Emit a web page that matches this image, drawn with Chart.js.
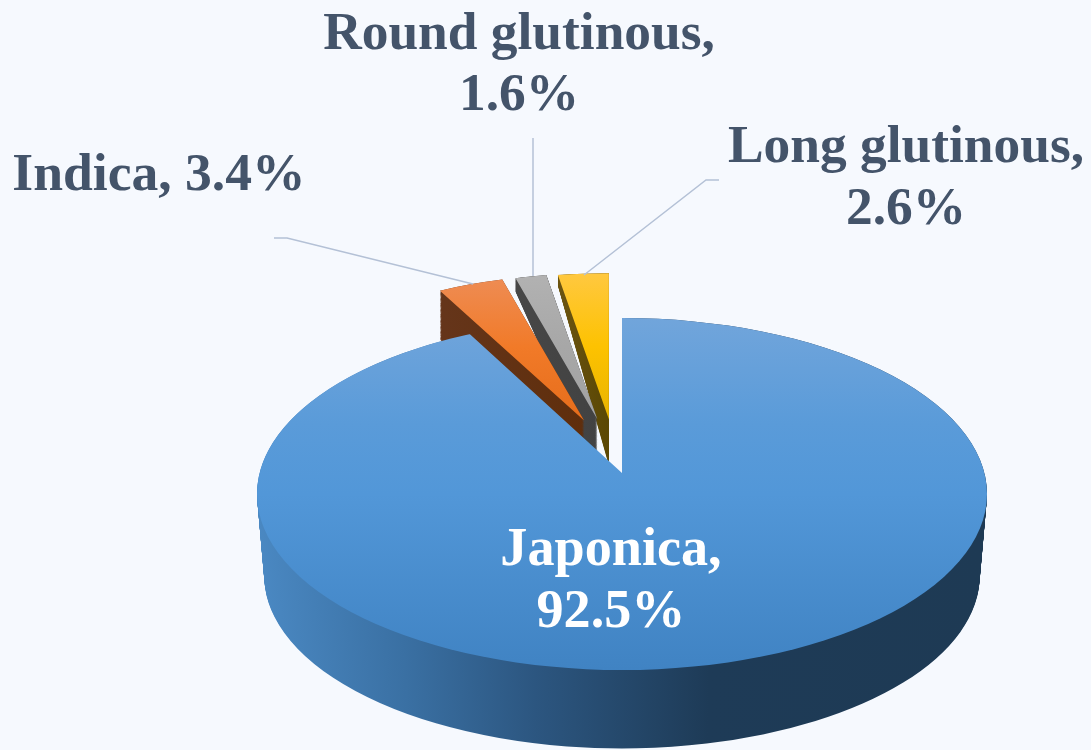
<!DOCTYPE html>
<html><head><meta charset="utf-8">
<script src="https://cdn.jsdelivr.net/npm/chart.js@4"></script>
<style>html,body{margin:0;padding:0;background:#f6f9fe;overflow:hidden}canvas{display:block}</style>
</head><body><canvas id="c" width="1091" height="750"></canvas>
<script>
const categories = ['Japonica', 'Indica', 'Round glutinous', 'Long glutinous'];
const shares = [92.5, 3.4, 1.6, 2.6];

const textColor = '#44546a', leaderColor = '#b4c1d6';
const fontFamily = '"Liberation Serif","Times New Roman",serif';
const R = 365;
const disc = {cx: 622, cy: 494, ry: 176, apexY: 473, sx: 1.2, sy: 0.566, depth: 82, shrink: 0.02};
const slice = {cx: 619, cy: 467, sx: 0.86, sy: 0.4, anchorY: 274};
const explode = [0, 125, 130, 130];
const nudge = [[0, 0], [4, 0], [2, 3], [-1, 4]];
const wall = [null,
  {color: ['#66361c', '#5f2e0c'], shift: 48, stretch: 0.05},
  {color: ['#474747', '#424242'], shift: 12, stretch: 0.3},
  {color: ['#6b5412', '#5a4703'], shift: 10, stretch: 0.25}];
const faces = [null,
  ['#ee8d56', '#f17a28', '#e66d1b'],
  ['#b2b2b2', '#a7a7a7', '#a2a2a2'],
  ['#ffc840', '#fdc201', '#e9b400']];
const leaders = [[[274,238],[287,238],[473,284]], [[533,138],[533,276]], [[719,180],[706,180],[584,275]]];
const labels = [
  {i: 0, x: 611, y: [565, 627], color: '#ffffff', lines: 2, size: 54.2},
  {i: 1, x: 159, y: [190], color: textColor, lines: 1, size: 53.6},
  {i: 2, x: 519, y: [49, 110], color: textColor, lines: 2, size: 53.4},
  {i: 3, x: 906, y: [162, 224], color: textColor, lines: 2, size: 53.4}];

function withFill(el, fill, fn) {
  const o = el.options;
  el.options = Object.assign({}, o, {backgroundColor: fill});
  fn();
  el.options = o;
}

const pie3d = {
  id: 'pie3d',
  beforeDatasetsDraw(chart) {
    const ctx = chart.ctx, els = chart.getDatasetMeta(0).data, blue = els[0];
    const ex = blue.x, ey = blue.y;

    // side wall of the large slice
    const side = ctx.createLinearGradient(ex - R, 0, ex + R, 0);
    side.addColorStop(0, '#4a88c2');
    side.addColorStop(0.2, '#3a70a3');
    side.addColorStop(0.38, '#2c5680');
    side.addColorStop(0.62, '#1e3b57');
    side.addColorStop(1, '#1e3a54');
    withFill(blue, side, () => {
      for (let k = disc.depth; k >= 0; k--) {
        const f = 1 - disc.shrink * k / disc.depth;
        ctx.save();
        ctx.translate(disc.cx, disc.cy + k);
        ctx.scale(f, disc.ry / R * f);
        ctx.translate(-ex, -ey);
        blue.draw(ctx);
        ctx.restore();
      }
    });

    // exploded small slices, back to front
    for (let i = els.length - 1; i >= 1; i--) {
      const el = els[i], w = wall[i];
      const mid = (el.startAngle + el.endAngle) / 2;
      const base = () => {
        ctx.translate(slice.cx + nudge[i][0], slice.cy + nudge[i][1]);
        ctx.scale(slice.sx, slice.sy);
        ctx.translate(Math.cos(mid) * explode[i], Math.sin(mid) * explode[i]);
        ctx.translate(-el.x, -el.y);
      };
      const wg = ctx.createLinearGradient(0, el.y - R, 0, el.y);
      wg.addColorStop(0, w.color[0]);
      wg.addColorStop(1, w.color[1]);
      withFill(el, wg, () => {
        for (let s = 40; s >= 0; s--) {
          const t = s / 40;
          ctx.save();
          ctx.translate(0, slice.anchorY + w.shift * t);
          ctx.scale(1, 1 + w.stretch * t);
          ctx.translate(0, -slice.anchorY);
          base();
          el.draw(ctx);
          ctx.restore();
        }
      });
      const fg = ctx.createLinearGradient(0, el.y - R, 0, el.y);
      fg.addColorStop(0, faces[i][0]);
      fg.addColorStop(0.5, faces[i][1]);
      fg.addColorStop(1, faces[i][2]);
      withFill(el, fg, () => { ctx.save(); base(); el.draw(ctx); ctx.restore(); });
    }

    // leader lines
    ctx.save();
    ctx.strokeStyle = leaderColor;
    ctx.lineWidth = 1.5;
    leaders.forEach(p => {
      ctx.beginPath();
      p.forEach((q, n) => n ? ctx.lineTo(q[0], q[1]) : ctx.moveTo(q[0], q[1]));
      ctx.stroke();
    });
    ctx.restore();

    // top face of the large slice
    const localY = Y => ey + (Y - disc.apexY) / disc.sy;
    const top = ctx.createLinearGradient(0, localY(318), 0, localY(670));
    top.addColorStop(0, '#71a5db');
    top.addColorStop(0.3, '#5a9bd9');
    top.addColorStop(0.5, '#5297d8');
    top.addColorStop(1, '#4083c3');
    ctx.save();
    ctx.beginPath();
    ctx.ellipse(disc.cx, disc.cy, R, disc.ry, 0, 0, Math.PI * 2);
    ctx.clip();
    ctx.translate(disc.cx, disc.apexY);
    ctx.scale(disc.sx, disc.sy);
    ctx.translate(-ex, -ey);
    withFill(blue, top, () => blue.draw(ctx));
    ctx.restore();

    // data labels
    ctx.save();
    ctx.textAlign = 'center';
    ctx.textBaseline = 'alphabetic';
    labels.forEach(l => {
      ctx.font = 'bold ' + l.size + 'px ' + fontFamily;
      ctx.fillStyle = l.color;
      const name = categories[l.i] + ',', pct = shares[l.i].toFixed(1) + '%';
      if (l.lines === 1) {
        ctx.fillText(name + ' ' + pct, l.x, l.y[0]);
      } else {
        ctx.fillText(name, l.x, l.y[0]);
        ctx.fillText(pct, l.x, l.y[1]);
      }
    });
    ctx.restore();
    return false;
  }
};

new Chart(document.getElementById('c'), {
  type: 'pie',
  data: {
    labels: categories,
    datasets: [{
      data: shares,
      backgroundColor: ['#5297d8', '#f17a28', '#a7a7a7', '#fdc201'],
      borderWidth: 0,
      hoverOffset: 0
    }]
  },
  options: {
    responsive: false,
    animation: false,
    radius: R,
    layout: {padding: 0},
    events: [],
    plugins: {legend: {display: false}, tooltip: {enabled: false}, title: {display: false}}
  },
  plugins: [pie3d]
});
</script>
</body></html>
